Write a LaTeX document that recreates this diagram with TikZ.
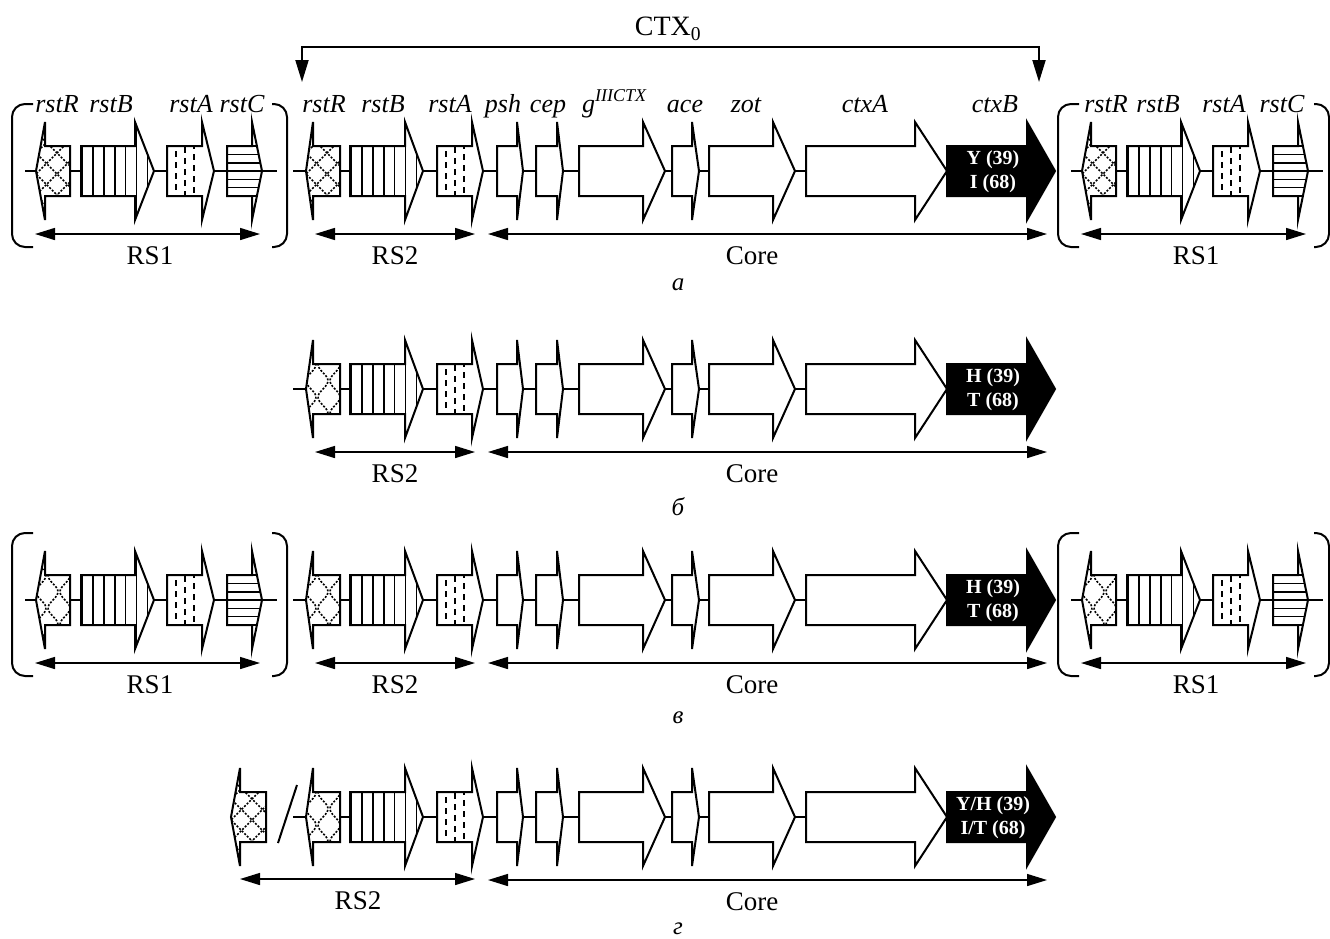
\documentclass[tikz,border=0pt]{standalone}
\usepackage{fontspec}
\setmainfont{Liberation Serif}
\usetikzlibrary{arrows.meta}
\tikzset{
 gout/.style={draw=black,line width=2pt},
 mline/.style={draw=black,line width=2pt},
 pat/.style={draw=black,line width=1.6pt},
 dpat/.style={draw=black,line width=1.6pt,dash pattern=on 2pt off 1.6pt},
 dsh/.style={draw=black,line width=1.8pt,dash pattern=on 6pt off 5pt},
 scl/.style={draw=black,line width=1.5pt,{Triangle[length=20pt,width=12pt]}-{Triangle[length=20pt,width=12pt]}},
 ctxarr/.style={draw=black,line width=2pt,{Triangle[length=22pt,width=13pt]}-{Triangle[length=22pt,width=13pt]}},
 brk/.style={draw=black,line width=2pt,rounded corners=13pt},
 glab/.style={font=\fontsize{26}{26}\selectfont\itshape,anchor=base,inner sep=0pt},
 slab/.style={font=\fontsize{27}{27}\selectfont,inner sep=0pt},
 plab/.style={font=\fontsize{25}{25}\selectfont\itshape,inner sep=0pt},
 ctxt/.style={font=\fontsize{20}{24}\selectfont\bfseries,text=white,align=center,inner sep=0pt},
}
% right-pointing gene: #1 left, #2 head base, #3 tip, #4 yc, #5 options
\newcommand{\myrpath}[5]{\path[#5] (#1,#4-25) -- (#2,#4-25) -- (#2,#4-49) -- (#3,#4) -- (#2,#4+49) -- (#2,#4+25) -- (#1,#4+25) -- cycle;}
% left-pointing gene: #1 right end, #2 head base, #3 tip, #4 yc, #5 options
\newcommand{\mylpath}[5]{\path[#5] (#1,#4-25) -- (#2,#4-25) -- (#2,#4-49) -- (#3,#4) -- (#2,#4+49) -- (#2,#4+25) -- (#1,#4+25) -- cycle;}
\newcommand{\myrgene}[5]{\myrpath{#1}{#2}{#3}{#4}{fill=white}\begin{scope}\myrpath{#1}{#2}{#3}{#4}{clip}#5{#1}{#3}{#4}\end{scope}\myrpath{#1}{#2}{#3}{#4}{gout}}
\newcommand{\mylgene}[5]{\mylpath{#1}{#2}{#3}{#4}{fill=white}\begin{scope}\mylpath{#1}{#2}{#3}{#4}{clip}#5{#3}{#1}{#4}\end{scope}\mylpath{#1}{#2}{#3}{#4}{gout}}
% patterns: #1 xmin, #2 xmax, #3 yc
\newcommand{\mypnone}[3]{}
\newcommand{\mypvert}[3]{\foreach \ii in {0,...,8}{\draw[pat] (#1+1+\ii*10.9,#3-55) -- (#1+1+\ii*10.9,#3+55);}}
\newcommand{\mypdash}[3]{\foreach \ii in {1,2,3}{\draw[dsh,dash phase=\ii*4pt] (#1+\ii*9,#3-27) -- (#1+\ii*9,#3+27);}}
\newcommand{\myphorz}[3]{\foreach \ii in {-3,...,3}{\draw[pat] (#1-2,#3+\ii*8.3) -- (#2+2,#3+\ii*8.3);}}
\newcommand{\mypcross}[3]{\foreach \ii in {-6,...,8}{\draw[dpat] (#1+\ii*21,#3-60) -- ++(120,120); \draw[dpat] (#1+\ii*21,#3-60) -- ++(-120,120);}}
\newcommand{\mypwave}[3]{\foreach \ii in {0,...,3}{\draw[dpat] plot[variable=\t,domain=-55:55,samples=45,smooth] ({#1+5+\ii*12+5*sin(\t*11+\ii*180)},{#3+\t});}}
% scale arrow: #1 name, #2 x1, #3 x2, #4 y, #5 label, #6 label x
\newcommand{\mysarrow}[6]{\coordinate (#1L) at (#2,#4); \coordinate (#1R) at (#3,#4);
 \draw[scl] (#1L) -- (#1R);
 \node[slab] (#1T) at (#6,#4+22) {#5};}
% RS1 block: #1 dx, #2 yc, #3 rstR pattern, #4 name, #5 right bracket x
\newcommand{\myrsone}[5]{%
 \draw[brk] (33+#1,#2-67) -- (12+#1,#2-67) -- (12+#1,#2+76) -- (33+#1,#2+76);
 \draw[brk] (#5-15,#2-67) -- (#5,#2-67) -- (#5,#2+76) -- (#5-15,#2+76);
 \draw[mline] (25+#1,#2) -- (277+#1,#2);
 \mylgene{70+#1}{45+#1}{36+#1}{#2}{#3}
 \myrgene{81+#1}{135+#1}{154+#1}{#2}{\mypvert}
 \myrgene{167+#1}{202+#1}{214+#1}{#2}{\mypdash}
 \myrgene{227+#1}{252+#1}{262+#1}{#2}{\myphorz}
 \mysarrow{#4}{35+#1}{260+#1}{#2+63}{RS1}{150+#1}}
% RS2 + core block: #1 yc, #2 rstR pattern, #3 text, #4 name
\newcommand{\mycore}[4]{%
 \draw[mline] (293,#1) -- (1050,#1);
 \mylgene{340}{313}{306}{#1}{#2}
 \myrgene{350}{405}{423}{#1}{\mypvert}
 \myrgene{437}{472}{483}{#1}{\mypdash}
 \myrgene{497}{517}{523}{#1}{\mypnone}
 \myrgene{536}{557}{563}{#1}{\mypnone}
 \myrgene{579}{643}{665}{#1}{\mypnone}
 \myrgene{672}{692}{699}{#1}{\mypnone}
 \myrgene{709}{773}{795}{#1}{\mypnone}
 \myrgene{806}{915}{947}{#1}{\mypnone}
 \myrpath{947}{1027}{1055}{#1}{fill=black,gout}
 \node[ctxt] (#4ctxB) at (993,#1+1) {#3};
 \mysarrow{#4core}{488}{1047}{#1+63}{Core}{752}}
\begin{document}
\begin{tikzpicture}[x=1pt,y=-1pt]
\useasboundingbox (0,0) rectangle (1330,938);
% ---------- panel a ----------
\coordinate (ctxL) at (302,82);
\coordinate (ctxTL) at (302,47);
\coordinate (ctxTR) at (1039,47);
\coordinate (ctxR) at (1039,82);
\draw[ctxarr] (ctxL) -- (ctxTL) -- (ctxTR) -- (ctxR);
\node[font=\fontsize{28}{28}\selectfont,inner sep=0pt] (ctxlab) at (668,29) {CTX\textsubscript{0}};
\myrsone{0}{171}{\mypcross}{aRSa}{287}
\mycore{171}{\mypcross}{Y (39)\\I (68)}{a}
\mysarrow{aRStwo}{315}{475}{234}{RS2}{395}
\myrsone{1046}{171}{\mypcross}{aRSb}{1329}
\node[glab] (g1) at (57,112) {rstR};
\node[glab] (g2) at (111,112) {rstB};
\node[glab] (g3) at (191,112) {rstA};
\node[glab] (g4) at (242,112) {rstC};
\node[glab] (g5) at (324,112) {rstR};
\node[glab] (g6) at (383,112) {rstB};
\node[glab] (g7) at (450,112) {rstA};
\node[glab] (g8) at (503,112) {psh};
\node[glab] (g9) at (548,112) {cep};
\node[glab,anchor=base west] (g10) at (582,112) {g\raisebox{0.42em}{\fontsize{18}{18}\selectfont IIICTX}};
\node[glab] (g11) at (685,112) {ace};
\node[glab] (g12) at (746,112) {zot};
\node[glab] (g13) at (865,112) {ctxA};
\node[glab] (g14) at (995,112) {ctxB};
\node[glab] (g15) at (1106,112) {rstR};
\node[glab] (g16) at (1158,112) {rstB};
\node[glab] (g17) at (1224,112) {rstA};
\node[glab] (g18) at (1282,112) {rstC};
\node[plab] (pa) at (678,285) {а};
% ---------- panel b ----------
\mycore{389}{\mypwave}{H (39)\\T (68)}{b}
\mysarrow{bRStwo}{315}{475}{452}{RS2}{395}
\node[plab] (pb) at (678,507) {б};
% ---------- panel v ----------
\myrsone{0}{600}{\mypwave}{vRSa}{287}
\mycore{600}{\mypwave}{H (39)\\T (68)}{v}
\mysarrow{vRStwo}{315}{475}{663}{RS2}{395}
\myrsone{1046}{600}{\mypwave}{vRSb}{1329}
\node[plab] (pv) at (678,718) {в};
% ---------- panel g ----------
\mylgene{266}{240}{231}{817}{\mypcross}
\coordinate (slA) at (278,843);
\coordinate (slB) at (297,785);
\draw[mline] (slA) -- (slB);
\mycore{817}{\mypwave}{Y/H (39)\\I/T (68)}{g}
\mysarrow{gRStwo}{240}{475}{879}{RS2}{358}
\node[plab] (pg) at (678,929) {г};
\end{tikzpicture}
\end{document}
